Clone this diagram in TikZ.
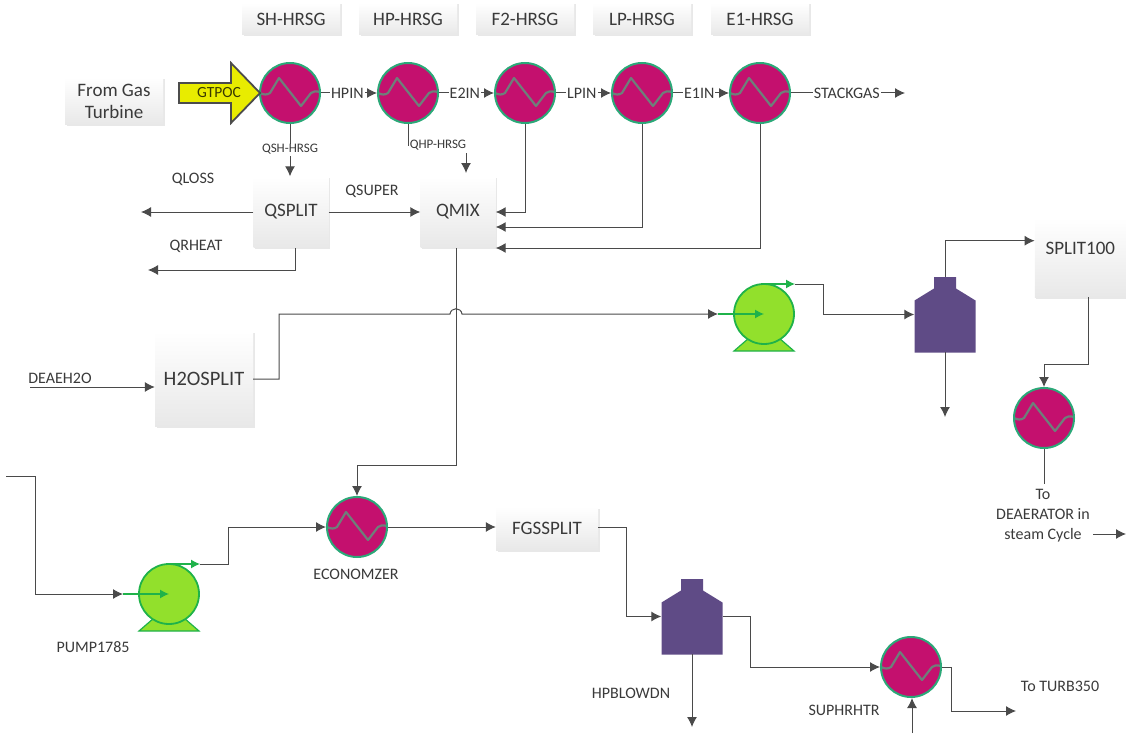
\documentclass[tikz,border=0pt]{standalone}
\usepackage{fontspec}
\setmainfont{Carlito}
\usepackage{tikz}
\usetikzlibrary{arrows.meta,shadows}
\definecolor{hxfill}{HTML}{C4106E}
\definecolor{hxedge}{HTML}{2BA878}
\definecolor{hxcoil}{HTML}{6E7F7A}
\definecolor{pumpfill}{HTML}{92E02C}
\definecolor{pumpedge}{HTML}{1FB24A}
\definecolor{towerfill}{HTML}{5F4B86}
\definecolor{linecol}{HTML}{4A4A4A}
\definecolor{textcol}{HTML}{3A3A3A}
\definecolor{gtfill}{HTML}{E8EC00}
\tikzset{
	flow/.style={draw=linecol, line width=1pt, -{Latex[length=10pt,width=10pt]}},
	plain/.style={draw=linecol, line width=1pt},
	box/.style={top color=white, bottom color=black!9, text=textcol, font=\fontsize{19}{22}\selectfont, align=center, inner sep=0pt, drop shadow={opacity=.18, shadow xshift=1.5pt, shadow yshift=-1.5pt}},
	tag/.style={text=textcol, font=\fontsize{16}{19}\selectfont, inner sep=1pt, align=center},
	online/.style={tag, fill=white, inner sep=1pt},
	qtag/.style={online, font=\fontsize{13}{15}\selectfont},
	hx/.style={circle, fill=hxfill, draw=hxedge, line width=2pt, minimum size=60pt, inner sep=0pt, path picture={
		\draw[hxcoil, line width=2.2pt, line join=round, shift={(path picture bounding box.center)}] (-30,0) .. controls (-26,2) and (-23,2) .. (-20,0) -- (-11,-15) -- (11,13) -- (21,0) .. controls (23,-2) and (26,-2) .. (30,-1);}},
	tower/.style={minimum width=61pt, minimum height=75pt, inner sep=0pt, path picture={
		\fill[towerfill, shift={(path picture bounding box.center)}] (-11,-38) -- (11,-38) -- (11,-26) -- (30.5,-14) -- (30.5,38) -- (-30.5,38) -- (-30.5,-14) -- (-11,-26) -- cycle;}},
	pumpsym/.pic={
		\filldraw[fill=pumpfill, draw=pumpedge, line width=1.2pt] (-30,37) -- (-15,24) -- (15,24) -- (30,37) -- cycle;
		\node[circle, fill=pumpfill, draw=pumpedge, line width=1.8pt, minimum size=60pt, inner sep=0pt] (-body) at (0,0) {};
		\coordinate (-in) at (-46,0);
		\coordinate (-out) at (31,-30);
		\draw[draw=pumpedge, line width=1.2pt, -{Latex[length=9pt,width=9pt]}] (-46,0) -- (0,0);
		\draw[draw=pumpedge, line width=1.2pt, -{Latex[length=9pt,width=9pt]}] (0,-30) -- (-out);
	}
}
\begin{document}
\begin{tikzpicture}[x=1pt, y=-1pt]
	\useasboundingbox (0,0) rectangle (1126,733);
	\node[box, minimum width=98pt, minimum height=32pt] (shlab) at (291,19) {SH-HRSG};
	\node[box, minimum width=98pt, minimum height=32pt] (hplab) at (408,19) {HP-HRSG};
	\node[box, minimum width=98pt, minimum height=32pt] (f2lab) at (525,19) {F2-HRSG};
	\node[box, minimum width=98pt, minimum height=32pt] (lplab) at (642,19) {LP-HRSG};
	\node[box, minimum width=98pt, minimum height=32pt] (e1lab) at (760,19) {E1-HRSG};
	\node[box, minimum width=98pt, minimum height=47pt] (gasbox) at (114,101) {From Gas\\Turbine};
	\node[box, minimum width=75pt, minimum height=71pt] (qsplit) at (291,212) {QSPLIT};
	\node[box, minimum width=75pt, minimum height=71pt] (qmix) at (458,212) {QMIX};
	\node[box, minimum width=98pt, minimum height=95pt, font=\fontsize{20.5}{24}\selectfont] (h2osplit) at (204,379) {H2OSPLIT};
	\node[box, minimum width=91pt, minimum height=79pt, anchor=north east] (split100) at (1126,218) {\raisebox{18pt}{SPLIT100}};
	\node[box, minimum width=102pt, minimum height=43pt] (fgssplit) at (547,528.5) {FGSSPLIT};

	\node[hx] (shhx) at (290,93) {};
	\node[hx] (hphx) at (408,93) {};
	\node[hx] (f2hx) at (525,93) {};
	\node[hx] (lphx) at (642,93) {};
	\node[hx] (e1hx) at (760,93) {};
	\node[hx] (deahx) at (1044,418) {};
	\node[hx] (ecohx) at (357,527) {};
	\node[hx] (suphx) at (911,667) {};

	\node[tower] (drum) at (945,314.5) {};
	\node[tower] (hpdrum) at (692,616.5) {};
	\pic (pumpa) at (764,314) {pumpsym};
	\pic (pumpb) at (169,594) {pumpsym};

	\fill[fill=gtfill, draw=black!70, line width=1.8pt] (179,83) -- (231,83) -- (231,63) -- (260,93) -- (231,123) -- (231,103) -- (179,103) -- cycle;
	\node[text=black!60!gtfill!60!black, font=\fontsize{15.5}{18}\selectfont, inner sep=0pt] (gtpoc) at (219,93) {GTPOC};

	\coordinate (stackend) at (905,93);
	\coordinate (qlossend) at (141,212);
	\coordinate (qrheatend) at (148,270);
	\coordinate (deainlet) at (30,387);
	\coordinate (feedinlet) at (6,476);
	\coordinate (deaout) at (1126,534);
	\coordinate (turbend) at (1016,711);
	\coordinate (blowend) at (945,417);
	\coordinate (hpblowend) at (692,727);
	\coordinate (supin) at (912,733);

	\draw[flow] (shhx) -- (hphx) node[online, pos=.47] (hpin) {HPIN};
	\draw[flow] (hphx) -- (f2hx) node[online, pos=.47] (e2in) {E2IN};
	\draw[flow] (f2hx) -- (lphx) node[online, pos=.47] (lpin) {LPIN};
	\draw[flow] (lphx) -- (e1hx) node[online, pos=.47] (e1in) {E1IN};
	\draw[flow] (e1hx) -- (stackend) node[online, pos=.49] (stack) {STACKGAS};
	\draw[flow] (shhx) -- (shhx |- qsplit.north) node[qtag, pos=.49] (qshlab) {QSH-HRSG};
	\node[qtag] (qhplab) at (438,145) {QHP-HRSG};
	\draw[plain] (hphx) |- (qhplab);
	\draw[flow] (466,153) -- (466,173);
	\draw[flow] (f2hx) |- (qmix);
	\draw[flow] (lphx) |- ([yshift=-15pt]qmix.east);
	\draw[flow] (e1hx) |- ([yshift=-36pt]qmix.east);
	\draw[flow] (qsplit) -- (qlossend);
	\draw[flow] (qsplit) -- (qmix);
	\draw[flow] (295,248) |- (qrheatend);
	\draw[flow] (456,248) -- (456,465) -| (ecohx);
	\draw[flow] (deainlet) -- (deainlet -| h2osplit.west);
	\draw[flow] (h2osplit.east) -- (279,379) -- (279,314) -- (450,314) .. controls (451,307) and (461,307) .. (462,314) -- (pumpa-in);
	\draw[flow] (pumpa-out) -- (823,284) -- (823,314.5) -- (drum.west);
	\draw[flow] (drum.north) |- ([yshift=17pt]split100.west);
	\draw[flow] (drum.south) -- (blowend);
	\draw[flow] (1088,297) |- (1044,364) -- (deahx);
	\draw[plain] (deahx) -- (1044,484);
	\draw[flow] (1093,534) -- (deaout);
	\draw[plain] (feedinlet) -- (35,476) -- (35,594);
	\draw[flow] (35,594) -- (pumpb-in);
	\draw[flow] (pumpb-out) -- (228,564) -- (228,527) -- (ecohx);
	\draw[flow] (ecohx) -- (fgssplit.west |- ecohx);
	\draw[flow] (fgssplit.east |- ecohx) -- (626,527) -- (626,616.5) -- (hpdrum.west);
	\draw[flow] (hpdrum.east) -- (750,616.5) -- (750,667) -- (suphx);
	\draw[flow] (hpdrum.south) -- (hpblowend);
	\draw[flow] (suphx.east) -- (951,667) -- (951,711) -- (turbend);
	\draw[flow] (supin) -- (suphx.south -| supin);

	\node[tag] (qloss) at (193,179) {QLOSS};
	\node[tag] (qsuper) at (372,191) {QSUPER};
	\node[tag] (qrheat) at (196,246) {QRHEAT};
	\node[tag] (deaeh2o) at (60,378) {DEAEH2O};
	\node[tag] (pumplab) at (93,647) {PUMP1785};
	\node[tag] (ecolab) at (356,574) {ECONOMZER};
	\node[tag] (hpblow) at (631,693) {HPBLOWDN};
	\node[tag] (suplab) at (844,710) {SUPHRHTR};
	\node[tag] (turblab) at (1060,686) {To TURB350};
	\node[tag] (dealab) at (1043,516) {To\\[1pt]DEAERATOR in\\[1pt]steam Cycle};
\end{tikzpicture}
\end{document}
